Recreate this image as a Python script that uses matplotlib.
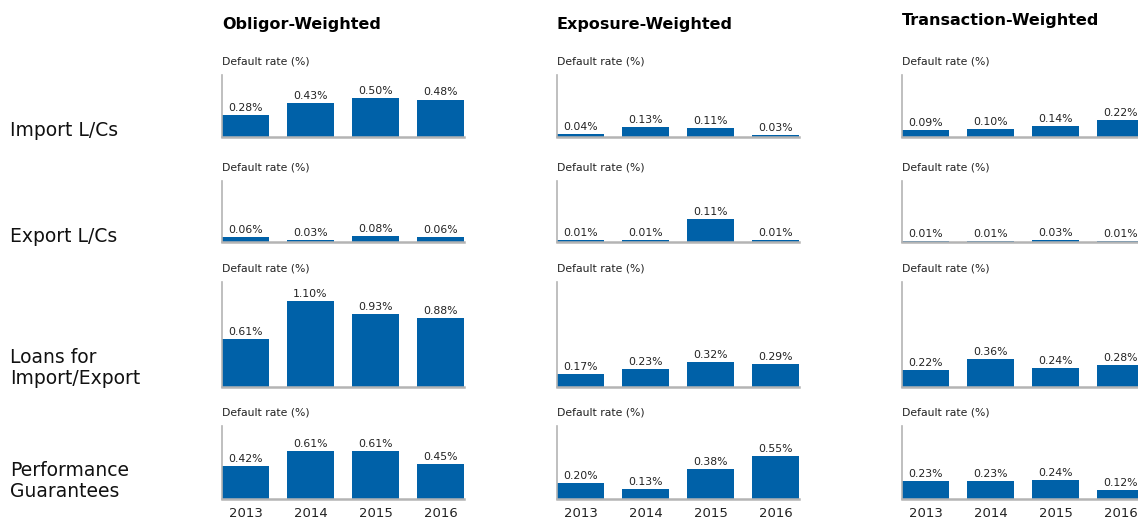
import matplotlib.pyplot as plt

years = ["2013", "2014", "2015", "2016"]
columns = ["Obligor-Weighted", "Exposure-Weighted", "Transaction-Weighted"]
products = ["Import L/Cs", "Export L/Cs", "Loans for\nImport/Export", "Performance\nGuarantees"]

# default rates (%) per product, one list per weighting
obligor = [
    [0.28, 0.43, 0.50, 0.48],
    [0.06, 0.03, 0.08, 0.06],
    [0.61, 1.10, 0.93, 0.88],
    [0.42, 0.61, 0.61, 0.45],
]
exposure = [
    [0.04, 0.13, 0.11, 0.03],
    [0.01, 0.01, 0.11, 0.01],
    [0.17, 0.23, 0.32, 0.29],
    [0.20, 0.13, 0.38, 0.55],
]
transaction = [
    [0.09, 0.10, 0.14, 0.22],
    [0.01, 0.01, 0.03, 0.01],
    [0.22, 0.36, 0.24, 0.28],
    [0.23, 0.23, 0.24, 0.12],
]
series = [obligor, exposure, transaction]

# ----------------------------------------
# Layout (pixels of a 1138x523 canvas)
# ----------------------------------------
W, H = 1138, 523
BLUE = "#0061a8"
GREY = "#b4b4b4"
col_left = [222, 557, 902]
row_top = [75, 181, 282, 426]
row_base = [137, 242, 387, 499]
title_y = [24, 24, 21]
label_y = [130, 236, 368, 481]
step, bar_w = 65, 47
px_per_pct = 78

plt.rcParams["font.family"] = ["DejaVu Sans"]

fig = plt.figure(figsize=(W / 100, H / 100), dpi=100)

for c, name in enumerate(columns):
    fig.text(col_left[c] / W, 1 - title_y[c] / H, name, fontsize=11.5,
             fontweight="bold", ha="left", va="center")

for r, prod in enumerate(products):
    fig.text(10 / W, 1 - label_y[r] / H, prod, fontsize=13.5, ha="left",
             va="center", linespacing=1.1, color="#111111")

x = list(range(len(years)))
width = bar_w / step

for c in range(3):
    for r in range(4):
        vals = series[c][r]
        h_px = row_base[r] - row_top[r]
        ax = fig.add_axes([col_left[c] / W, 1 - row_base[r] / H,
                           (3 * step + bar_w) / W, h_px / H])
        ax.bar(x, vals, width=width, align="edge", color=BLUE)
        scale = px_per_pct
        if c == 1 and r == 1:
            scale = 210
        ax.set_xlim(0, 3 + width)
        ax.set_ylim(0, h_px / scale)

        for xi, v in zip(x, vals):
            ax.annotate(f"{v:.2f}%", xy=(xi + width / 2, v), xytext=(0, 1.5),
                        textcoords="offset points", ha="center", va="bottom",
                        fontsize=7.8, color="#222222")

        ax.annotate("Default rate (%)", xy=(0, 1), xycoords="axes fraction",
                    xytext=(0, 9.5), textcoords="offset points", ha="left",
                    va="center", fontsize=7.8, color="#222222")

        for s in ["top", "right"]:
            ax.spines[s].set_visible(False)
        ax.spines["left"].set_color(GREY)
        ax.spines["bottom"].set_color(GREY)
        ax.spines["left"].set_linewidth(1.2)
        ax.spines["bottom"].set_linewidth(1.8)
        ax.set_yticks([])
        if r == 3:
            ax.set_xticks([xi + width / 2 for xi in x])
            ax.set_xticklabels(years, fontsize=9.5, color="#222222")
            ax.tick_params(axis="x", length=0, pad=6)
        else:
            ax.set_xticks([])

fig.savefig("out.png", dpi=100)
